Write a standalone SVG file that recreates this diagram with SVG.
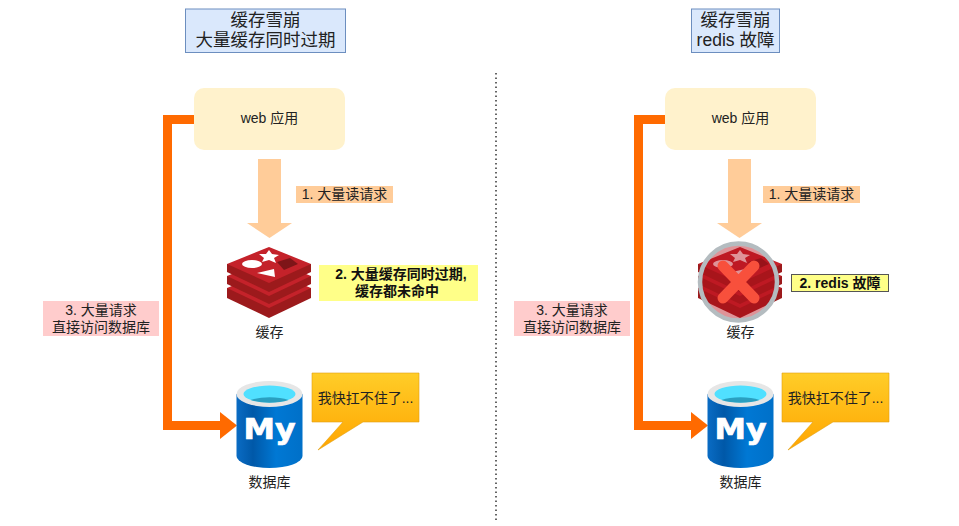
<svg xmlns="http://www.w3.org/2000/svg" width="959" height="526" viewBox="0 0 959 526">
<style>
text{font-family:"Liberation Sans","Noto Sans CJK SC",sans-serif;fill:#222;text-anchor:middle}
.t{font-size:17.500px}.s{font-size:14px}.b{font-size:14px;font-weight:bold;fill:#111}
.title{fill:#dae8fc;stroke:#6c8ebf}
.web{fill:#fff2cc}
.read{fill:#ffcc99}
.l1{fill:#ffcc99}.l2{fill:#ffff88}.l3{fill:#ffcccc}
.wire{fill:none;stroke:#ff6a00;stroke-width:9;stroke-linejoin:miter}
.tip{fill:#ff6a00}
.side{fill:#9c1a1c}.face{fill:#c4222a}
</style>
<defs>
<linearGradient id="bub" x1="0" y1="0" x2="0" y2="1"><stop offset="0" stop-color="#ffcd28"/><stop offset="1" stop-color="#ffa500"/></linearGradient>
<linearGradient id="cyl" x1="0" y1="0" x2="1" y2="0"><stop offset="0" stop-color="#0a6cc4"/><stop offset=".25" stop-color="#0058a8"/><stop offset=".6" stop-color="#0078d4"/><stop offset="1" stop-color="#0070c8"/></linearGradient>
<g id="redis">
<path class="side" d="M0 41V51L42 71L84 51V41Z"/>
<path class="face" d="M0 41L42 61L84 41L42 24Z"/>
<path class="side" d="M0 29V37L42 57L84 37V29Z"/>
<path class="face" d="M0 29L42 49L84 29L42 12Z"/>
<path class="side" d="M0 17V25L42 45L84 25V17Z"/>
<path class="face" d="M0 17L42 36L84 17L42 0Z"/>
<ellipse cx="25" cy="17" rx="10" ry="4" fill="#fff"/>
<path d="M42 3L45 7L52 8L47 11L49 16L42 13L35 15L37 11L32 7L39 7Z" fill="#fff"/>
<path d="M30 26L47 22L48 30Z" fill="#fff"/>
<path d="M50 15L63 11L71 17L57 23Z" fill="#7e1518"/>
</g>
<g id="db">
<path d="M0 13V75A33 12 0 0 0 66 75V13Z" fill="url(#cyl)"/>
<ellipse cx="33" cy="13" rx="33" ry="13" fill="#e6e6e6"/>
<ellipse cx="33" cy="13" rx="26" ry="8.500" fill="#50e0ff"/>
<path d="M14 19A26 8.500 0 0 1 52 19A26 8.500 0 0 1 14 19Z" fill="#2a9fc0"/>
<text x="33" y="58" textLength="52" lengthAdjust="spacingAndGlyphs" style="font-family:'DejaVu Sans',sans-serif;font-size:29px;font-weight:bold;fill:#fff;stroke:#fff;stroke-width:.7">My</text>
</g>
<path id="bubble" d="M0 0H107V49H51L6 77L31 49H0Z" fill="url(#bub)" stroke="#e0a010" stroke-width=".6"/>
</defs>
<rect width="959" height="526" fill="#fff"/>
<g id="connectors">
<path class="read" d="M258 159H281V223H292L269.500 238L247 223H258Z"/>
<path class="read" d="M728 159H751V223H762L739.500 238L717 223H728Z"/>
<path class="wire" d="M194 119.500H167.500V425.500H221"/>
<path class="tip" d="M220 412L237 425.500L220 439Z"/>
<path class="wire" d="M665 119.500H638.500V425.500H692"/>
<path class="tip" d="M691 412L708 425.500L691 439Z"/>
<path d="M496 73V522" fill="none" stroke="#333" stroke-width="1.500" stroke-dasharray="1.500 3"/>
</g>
<g id="title-left"><rect class="title" x="185.500" y="9" width="160" height="43.500"/><text class="t" x="265.500" y="26">缓存雪崩</text><text class="t" x="265.500" y="46">大量缓存同时过期</text></g>
<g id="title-right"><rect class="title" x="691.500" y="9" width="88" height="43.500"/><text class="t" x="735.500" y="26">缓存雪崩</text><text class="t" x="735.500" y="46">redis 故障</text></g>
<g id="web-left"><rect class="web" x="194" y="88" width="151" height="62" rx="10"/><text class="s" x="269.500" y="123">web 应用</text></g>
<g id="web-right"><rect class="web" x="665" y="88" width="151" height="62" rx="10"/><text class="s" x="740.500" y="123">web 应用</text></g>
<g id="label1-left"><rect class="l1" x="296" y="186" width="97" height="17"/><text class="s" x="344.500" y="199">1. 大量读请求</text></g>
<g id="label1-right"><rect class="l1" x="763" y="186" width="97" height="17"/><text class="s" x="811.500" y="199">1. 大量读请求</text></g>
<g id="cache-left"><use href="#redis" x="227" y="247"/><text class="s" x="269.500" y="337">缓存</text></g>
<g id="cache-right"><use href="#redis" x="698" y="247"/>
<circle cx="738.500" cy="282" r="38.500" fill="#b8101a" fill-opacity=".45" stroke="#b4bcc0" stroke-width="4.500"/>
<path d="M723 266L754 298M754 266L723 298" stroke="#f8503c" stroke-width="11" stroke-linecap="round" fill="none"/>
<text class="s" x="740.500" y="337">缓存</text></g>
<g id="label2-left"><rect class="l2" x="319" y="265" width="159" height="36"/><text class="b" x="401" y="279">2. 大量缓存同时过期,</text><text class="b" x="397" y="296">缓存都未命中</text></g>
<g id="label2-right"><rect x="791.500" y="274.500" width="97" height="17" fill="#ffff88" stroke="#555"/><text class="b" x="840" y="288">2. redis 故障</text></g>
<g id="label3-left"><rect class="l3" x="43" y="301" width="116" height="35"/><text class="s" x="101" y="315">3. 大量请求</text><text class="s" x="101" y="332">直接访问数据库</text></g>
<g id="label3-right"><rect class="l3" x="514" y="301" width="116" height="35"/><text class="s" x="572" y="315">3. 大量请求</text><text class="s" x="572" y="332">直接访问数据库</text></g>
<g id="db-left"><use href="#db" x="236.500" y="381"/><text class="s" x="269.500" y="487">数据库</text></g>
<g id="db-right"><use href="#db" x="707.500" y="381"/><text class="s" x="740.500" y="487">数据库</text></g>
<g id="bubble-left"><use href="#bubble" x="312" y="373"/><text class="s" x="365.500" y="403">我快扛不住了...</text></g>
<g id="bubble-right"><use href="#bubble" x="782" y="373"/><text class="s" x="835.500" y="403">我快扛不住了...</text></g>
</svg>
